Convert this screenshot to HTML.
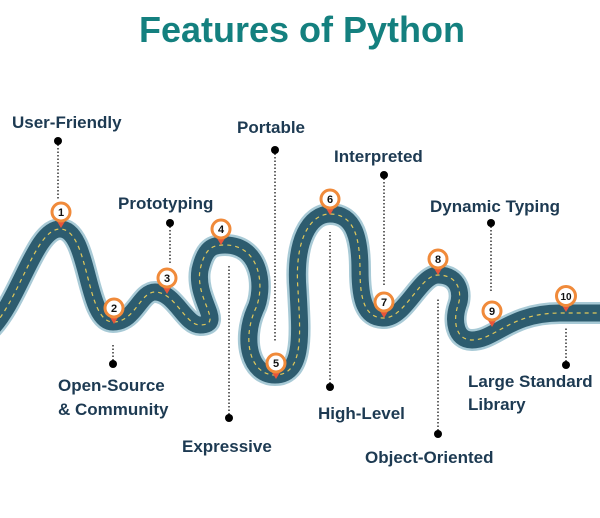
<!DOCTYPE html>
<html><head><style>
body{margin:0;width:600px;height:513px;background:#fff;overflow:hidden;font-family:"Liberation Sans",sans-serif;}
</style></head><body>
<svg width="600" height="513" viewBox="0 0 600 513" xmlns="http://www.w3.org/2000/svg" font-family="Liberation Sans, sans-serif">
<text x="302" y="42" text-anchor="middle" font-size="36" font-weight="bold" fill="#14807f">Features of Python</text>
<g font-size="17" font-weight="bold" fill="#1d3a52">
<text x="12" y="128">User-Friendly</text>
<text x="118" y="209">Prototyping</text>
<text x="237" y="133">Portable</text>
<text x="334" y="162">Interpreted</text>
<text x="430" y="212">Dynamic Typing</text>
<text x="58" y="391">Open-Source</text>
<text x="58" y="415">&amp; Community</text>
<text x="182" y="452">Expressive</text>
<text x="318" y="419">High-Level</text>
<text x="365" y="463">Object-Oriented</text>
<text x="468" y="387">Large Standard</text>
<text x="468" y="410">Library</text>
</g>
<g stroke="#333" stroke-width="1.5" stroke-dasharray="1.5 2">
<line x1="58" y1="141" x2="58" y2="200"/>
<line x1="170" y1="223" x2="170" y2="263"/>
<line x1="275" y1="150" x2="275" y2="342"/>
<line x1="384" y1="175" x2="384" y2="285"/>
<line x1="491" y1="223" x2="491" y2="292"/>
<line x1="113" y1="364" x2="113" y2="345"/>
<line x1="229" y1="418" x2="229" y2="265"/>
<line x1="330" y1="387" x2="330" y2="232"/>
<line x1="438" y1="434" x2="438" y2="298"/>
<line x1="566" y1="365" x2="566" y2="328"/>
</g>
<g fill="#000">
<circle cx="58" cy="141" r="4"/><circle cx="170" cy="223" r="4"/><circle cx="275" cy="150" r="4"/>
<circle cx="384" cy="175" r="4"/><circle cx="491" cy="223" r="4"/><circle cx="113" cy="364" r="4"/>
<circle cx="229" cy="418" r="4"/><circle cx="330" cy="387" r="4"/><circle cx="438" cy="434" r="4"/><circle cx="566" cy="365" r="4"/>
</g>
<g fill="none">
<path d="M -10,330 C 20,300 35,229 60,229 C 90,229 85,322 113,322 C 135,322 140,292 155,292 C 175,292 185,325 200,325 C 225,325 195,300 200,270 C 205,248 212,245 225,245 C 262,245 265,290 255,310 C 242,340 250,375 275,375 C 305,375 300,330 298,290 C 294,240 310,214 330,214 C 355,214 360,240 360,270 C 360,300 365,318 384,318 C 405,318 420,275 438,275 C 460,275 462,295 458,305 C 453,320 455,340 472,340 C 495,340 510,313 560,313 L 610,313" stroke="#a8cad6" stroke-width="22"/>
<path d="M -10,330 C 20,300 35,229 60,229 C 90,229 85,322 113,322 C 135,322 140,292 155,292 C 175,292 185,325 200,325 C 225,325 195,300 200,270 C 205,248 212,245 225,245 C 262,245 265,290 255,310 C 242,340 250,375 275,375 C 305,375 300,330 298,290 C 294,240 310,214 330,214 C 355,214 360,240 360,270 C 360,300 365,318 384,318 C 405,318 420,275 438,275 C 460,275 462,295 458,305 C 453,320 455,340 472,340 C 495,340 510,313 560,313 L 610,313" stroke="#2d5c6f" stroke-width="17"/>
<path d="M -10,330 C 20,300 35,229 60,229 C 90,229 85,322 113,322 C 135,322 140,292 155,292 C 175,292 185,325 200,325 C 225,325 195,300 200,270 C 205,248 212,245 225,245 C 262,245 265,290 255,310 C 242,340 250,375 275,375 C 305,375 300,330 298,290 C 294,240 310,214 330,214 C 355,214 360,240 360,270 C 360,300 365,318 384,318 C 405,318 420,275 438,275 C 460,275 462,295 458,305 C 453,320 455,340 472,340 C 495,340 510,313 560,313 L 610,313" stroke="#e0c85a" stroke-width="1.2" stroke-dasharray="4 4"/>
</g>
<g font-size="11" font-weight="bold" text-anchor="middle" fill="#111">
<g transform="translate(61,212)"><path d="M-6,6 L0,16 L6,6Z" fill="#e8553a"/><circle r="9" fill="#fff" stroke="#f08a3a" stroke-width="3"/><text y="4">1</text></g>
<g transform="translate(114,308)"><path d="M-6,6 L0,16 L6,6Z" fill="#e8553a"/><circle r="9" fill="#fff" stroke="#f08a3a" stroke-width="3"/><text y="4">2</text></g>
<g transform="translate(167,278)"><path d="M-6,6 L0,16 L6,6Z" fill="#e8553a"/><circle r="9" fill="#fff" stroke="#f08a3a" stroke-width="3"/><text y="4">3</text></g>
<g transform="translate(221,229)"><path d="M-6,6 L0,16 L6,6Z" fill="#e8553a"/><circle r="9" fill="#fff" stroke="#f08a3a" stroke-width="3"/><text y="4">4</text></g>
<g transform="translate(276,363)"><path d="M-6,6 L0,16 L6,6Z" fill="#e8553a"/><circle r="9" fill="#fff" stroke="#f08a3a" stroke-width="3"/><text y="4">5</text></g>
<g transform="translate(330,199)"><path d="M-6,6 L0,16 L6,6Z" fill="#e8553a"/><circle r="9" fill="#fff" stroke="#f08a3a" stroke-width="3"/><text y="4">6</text></g>
<g transform="translate(384,302)"><path d="M-6,6 L0,16 L6,6Z" fill="#e8553a"/><circle r="9" fill="#fff" stroke="#f08a3a" stroke-width="3"/><text y="4">7</text></g>
<g transform="translate(438,259)"><path d="M-6,6 L0,16 L6,6Z" fill="#e8553a"/><circle r="9" fill="#fff" stroke="#f08a3a" stroke-width="3"/><text y="4">8</text></g>
<g transform="translate(492,311)"><path d="M-6,6 L0,16 L6,6Z" fill="#e8553a"/><circle r="9" fill="#fff" stroke="#f08a3a" stroke-width="3"/><text y="4">9</text></g>
<g transform="translate(566,296)"><path d="M-6,6 L0,16 L6,6Z" fill="#e8553a"/><circle r="9.5" fill="#fff" stroke="#f08a3a" stroke-width="3"/><text y="4" font-size="10">10</text></g>
</g>
</svg>
</body></html>
